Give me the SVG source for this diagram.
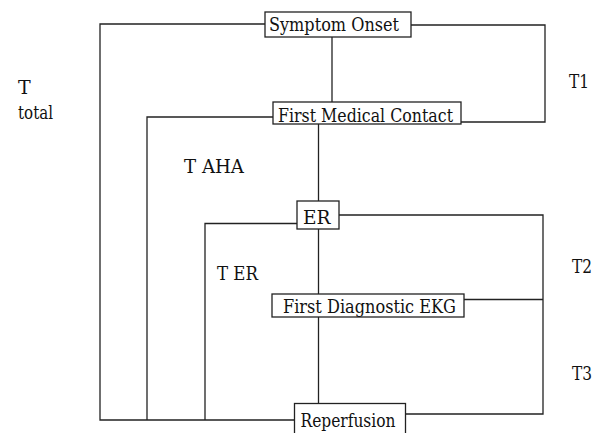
<svg xmlns="http://www.w3.org/2000/svg" width="597" height="433" viewBox="0 0 597 433">
<style>
text{font-family:"DejaVu Serif","Liberation Serif",serif;font-size:19px;fill:#111}
.box{fill:#fff;stroke:#222;stroke-width:1.3}
.c{fill:none;stroke:#222;stroke-width:1.3}
</style>
<rect width="597" height="433" fill="#fff"/>
<g id="connectors">
<polyline class="c" points="265,24 100,24 100,420 294,420"/>
<polyline class="c" points="411,25 545,25 545,122 461,122"/>
<line class="c" x1="332" y1="37" x2="332" y2="102"/>
<polyline class="c" points="273,117 147,117 147,420"/>
<line class="c" x1="318.5" y1="124" x2="318.5" y2="201"/>
<polyline class="c" points="297,223.5 205,223.5 205,420"/>
<polyline class="c" points="339,215 543,215 543,414 405,414"/>
<line class="c" x1="464" y1="299.5" x2="543" y2="299.5"/>
<line class="c" x1="318.5" y1="229" x2="318.5" y2="294"/>
<line class="c" x1="318.5" y1="317" x2="318.5" y2="403.5"/>
</g>
<g id="symptom-onset">
<rect class="box" x="265" y="12" width="146" height="25"/>
<text x="269" y="31" textLength="130" lengthAdjust="spacingAndGlyphs">Symptom Onset</text>
</g>
<g id="first-medical-contact">
<rect class="box" x="273" y="102" width="188" height="22"/>
<text x="278" y="122" textLength="175" lengthAdjust="spacingAndGlyphs">First Medical Contact</text>
</g>
<g id="er">
<rect class="box" x="297" y="201" width="42" height="28"/>
<text x="303" y="224" textLength="27.5" lengthAdjust="spacingAndGlyphs">ER</text>
</g>
<g id="first-diagnostic-ekg">
<rect class="box" x="272" y="294" width="192" height="23"/>
<text x="283" y="312.5" textLength="173" lengthAdjust="spacingAndGlyphs">First Diagnostic EKG</text>
</g>
<g id="reperfusion">
<rect class="box" x="294.5" y="403.5" width="111" height="40"/>
<text x="300.5" y="427" textLength="95" lengthAdjust="spacingAndGlyphs">Reperfusion</text>
</g>
<g id="labels">
<text x="18" y="94">T</text>
<text x="18" y="119" textLength="35" lengthAdjust="spacingAndGlyphs">total</text>
<text x="184" y="173" textLength="60" lengthAdjust="spacingAndGlyphs">T AHA</text>
<text x="217" y="280" textLength="41" lengthAdjust="spacingAndGlyphs">T ER</text>
<text x="569" y="88" textLength="20" lengthAdjust="spacingAndGlyphs">T1</text>
<text x="572" y="273" textLength="20" lengthAdjust="spacingAndGlyphs">T2</text>
<text x="572" y="380" textLength="20" lengthAdjust="spacingAndGlyphs">T3</text>
</g>
</svg>
